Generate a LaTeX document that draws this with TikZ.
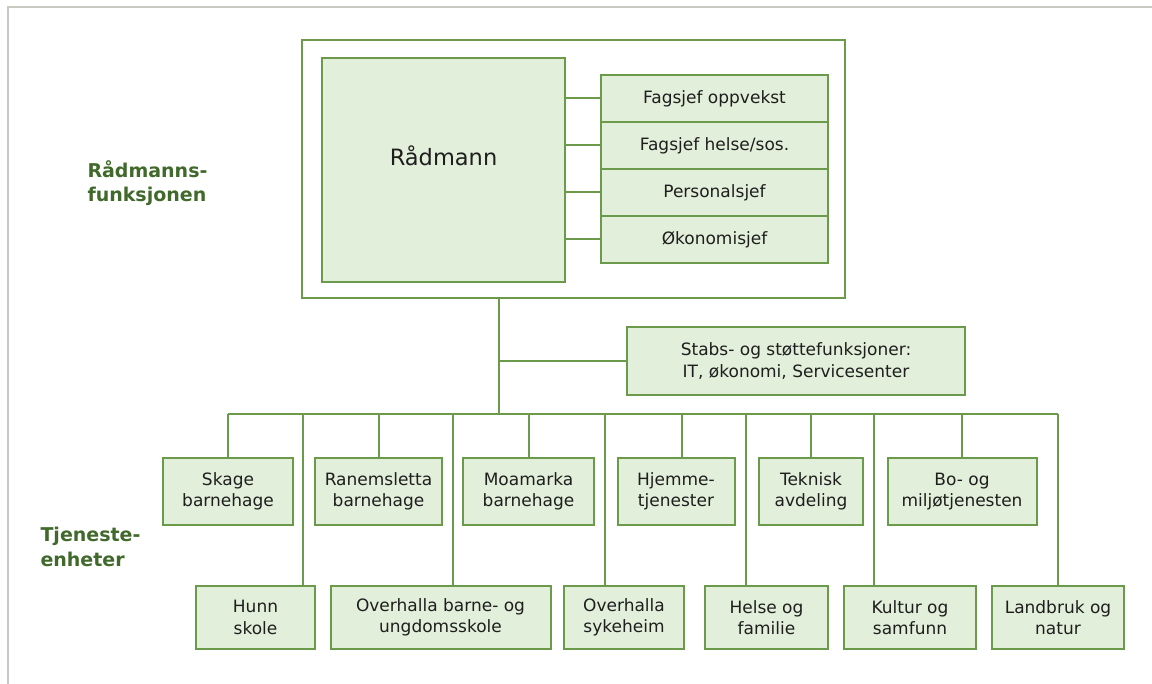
\documentclass[tikz,border=0pt]{standalone}
\usepackage{fontspec}
\setmainfont{DejaVu Sans}
\usetikzlibrary{positioning}
\definecolor{linegreen}{HTML}{6B9A4B}
\definecolor{boxgreen}{HTML}{E2EFDA}
\definecolor{textgreen}{HTML}{41692B}
\definecolor{framegrey}{HTML}{C9CBC2}
\definecolor{inkgrey}{HTML}{1E1E1E}

\tikzset{
  unit/.style={draw=linegreen, line width=2pt, fill=boxgreen, text=inkgrey,
    align=center, inner sep=0pt, outer sep=0pt,
    font=\fontsize{17}{21.5}\selectfont},
  link/.style={draw=linegreen, line width=2pt},
  sidelabel/.style={text=textgreen, align=left, anchor=west,
    font=\fontsize{19}{24.3}\selectfont\bfseries}
}

\begin{document}
\begin{tikzpicture}[x=1pt, y=-1pt]
    \useasboundingbox (0,0) rectangle (1152,684);
    \draw[framegrey, line width=1.5pt] (8,684) -- (8,7) -- (1152,7);

    % Raadmannsfunksjonen
    \node[draw=linegreen, line width=2pt, inner sep=0pt, outer sep=0pt,
        minimum width=543, minimum height=258] (top) at (573.5,169.5) {};
    \node[unit, minimum width=243, minimum height=224,
        label={[font=\fontsize{22.5}{27}\selectfont, text=inkgrey, yshift=14pt]center:Rådmann}]
        (raad) at (443.5,170) {};

    \node[unit, minimum width=227, minimum height=47] (f1) at (714.5,98.5) {Fagsjef oppvekst};
    \node[unit, minimum width=227, minimum height=47, below=0pt of f1] (f2) {Fagsjef helse/sos.};
    \node[unit, minimum width=227, minimum height=47, below=0pt of f2] (f3) {Personalsjef};
    \node[unit, minimum width=227, minimum height=47, below=0pt of f3] (f4) {Økonomisjef};

    \draw[link] (f1.west -| raad.east) -- (f1.west);
    \draw[link] (f2.west -| raad.east) -- (f2.west);
    \draw[link] (f3.west -| raad.east) -- (f3.west);
    \draw[link] (f4.west -| raad.east) -- (f4.west);

    \node[unit, minimum width=338, minimum height=68] (stabs) at (796,361)
        {Stabs- og støttefunksjoner:\\IT, økonomi, Servicesenter};

    % Tjenesteenheter, oeverste rad
    \node[unit, minimum width=130, minimum height=67] (skage) at (228,491.5) {Skage\\barnehage};
    \node[unit, minimum width=127, minimum height=67] (ranem) at (378.5,491.5) {Ranemsletta\\barnehage};
    \node[unit, minimum width=131, minimum height=67] (moa) at (528.5,491.5) {Moamarka\\barnehage};
    \node[unit, minimum width=117, minimum height=67] (hjem) at (676,491.5) {Hjemme-\\tjenester};
    \node[unit, minimum width=104, minimum height=67] (tekn) at (811,491.5) {Teknisk\\avdeling};
    \node[unit, minimum width=149, minimum height=67] (bomil) at (962,491.5) {Bo- og\\miljøtjenesten};

    % Tjenesteenheter, nederste rad
    \node[unit, minimum width=119, minimum height=63] (hunn) at (255.5,617.5) {Hunn\\skole};
    \node[unit, minimum width=220, minimum height=63] (obu) at (440.5,617.5) {Overhalla barne- og\\ungdomsskole};
    \node[unit, minimum width=120, minimum height=63] (syke) at (624,617.5) {Overhalla\\sykeheim};
    \node[unit, minimum width=123, minimum height=63] (helse) at (766.5,617.5) {Helse og\\familie};
    \node[unit, minimum width=132, minimum height=63] (kultur) at (910,617.5) {Kultur og\\samfunn};
    \node[unit, minimum width=132, minimum height=63] (landbr) at (1058,617.5) {Landbruk og\\natur};

    \node[sidelabel] (lblraad) at (84,183) {Rådmanns-\\funksjonen};
    \node[sidelabel] (lbltjen) at (37,547) {Tjeneste-\\enheter};

    % stamme og samleskinne
    \coordinate (trunk) at (498.5,414);
    \draw[link] (trunk |- top.south) -- (trunk);
    \draw[link] (trunk |- stabs.west) -- (stabs.west);
    \draw[link] (skage.north |- trunk) -- (landbr.north |- trunk);

    \coordinate (dh) at (682,414);
    \draw[link] (skage.north |- trunk) -- (skage.north);
    \draw[link] (ranem.north |- trunk) -- (ranem.north);
    \draw[link] (moa.north |- trunk) -- (moa.north);
    \draw[link] (dh) -- (dh |- hjem.north);
    \draw[link] (tekn.north |- trunk) -- (tekn.north);
    \draw[link] (bomil.north |- trunk) -- (bomil.north);

    \coordinate (d1) at (303,414);
    \coordinate (d2) at (452.5,414);
    \coordinate (d3) at (605,414);
    \coordinate (d4) at (746,414);
    \coordinate (d5) at (874,414);
    \draw[link] (d1) -- (d1 |- hunn.north);
    \draw[link] (d2) -- (d2 |- obu.north);
    \draw[link] (d3) -- (d3 |- syke.north);
    \draw[link] (d4) -- (d4 |- helse.north);
    \draw[link] (d5) -- (d5 |- kultur.north);
    \draw[link] (landbr.north |- trunk) -- (landbr.north);
\end{tikzpicture}
\end{document}
